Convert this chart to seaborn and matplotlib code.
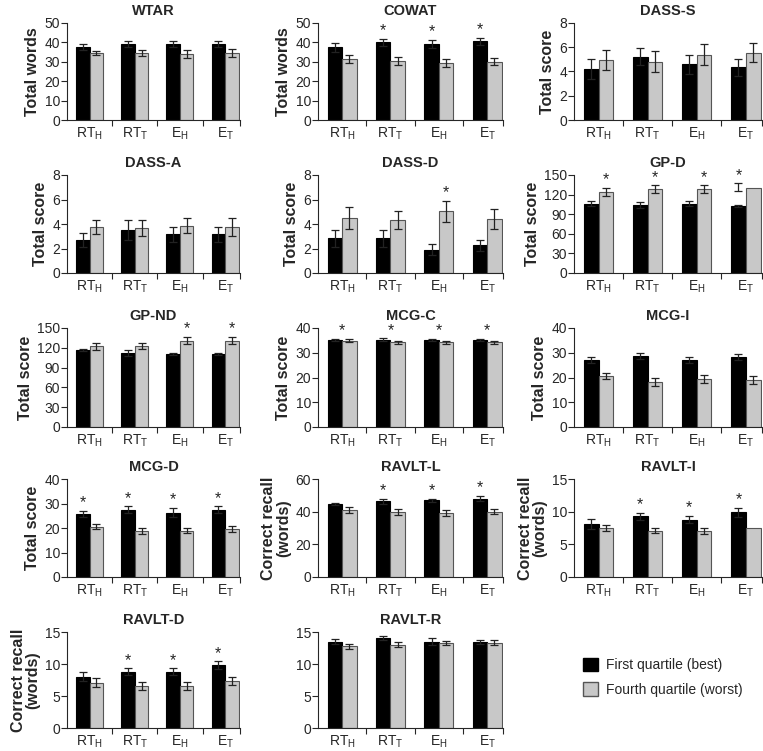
import matplotlib
matplotlib.use("Agg")
import matplotlib.pyplot as plt
from matplotlib.patches import Patch
import seaborn as sns
import pandas as pd

sns.set_style("ticks")
plt.rcParams["font.family"] = ["Liberation Sans", "DejaVu Sans"]
plt.rcParams["mathtext.fontset"] = "custom"
plt.rcParams["mathtext.rm"] = "Liberation Sans"

categories = ["RT_H", "RT_T", "E_H", "E_T"]
tick_labels = [r"RT$_\mathregular{H}$", r"RT$_\mathregular{T}$",
               r"E$_\mathregular{H}$", r"E$_\mathregular{T}$"]
groups = ["First quartile (best)", "Fourth quartile (worst)"]

titles = ["WTAR", "COWAT", "DASS-S", "DASS-A", "DASS-D", "GP-D", "GP-ND",
          "MCG-C", "MCG-I", "MCG-D", "RAVLT-L", "RAVLT-I", "RAVLT-D", "RAVLT-R"]
ylabels = ["Total words", "Total words", "Total score", "Total score", "Total score",
           "Total score", "Total score", "Total score", "Total score", "Total score",
           "Correct recall\n(words)", "Correct recall\n(words)", "Correct recall\n(words)", ""]
ymax = [50, 50, 8, 8, 8, 150, 150, 40, 40, 40, 60, 15, 15, 15]
ystep = [10, 10, 2, 2, 2, 30, 30, 10, 10, 10, 20, 5, 5, 5]

best_mean = [
    [37.5, 39.0, 39.0, 39.0],
    [37.5, 40.0, 39.2, 40.5],
    [4.2, 5.2, 4.6, 4.35],
    [2.7, 3.5, 3.15, 3.15],
    [2.85, 2.85, 1.9, 2.25],
    [106, 104, 106, 102],
    [116, 112, 110, 110],
    [35.2, 35.3, 35.2, 35.2],
    [27.0, 28.8, 27.0, 28.2],
    [25.8, 27.5, 26.3, 27.5],
    [44.5, 46.3, 47.0, 48.0],
    [8.1, 9.3, 8.8, 9.9],
    [8.0, 8.8, 8.8, 9.8],
    [13.5, 14.0, 13.5, 13.5],
]
best_err = [
    [1.5, 1.5, 1.5, 1.5],
    [2.2, 2.0, 2.0, 2.0],
    [0.8, 0.7, 0.8, 0.7],
    [0.6, 0.8, 0.6, 0.6],
    [0.7, 0.7, 0.45, 0.45],
    [4, 4, 4, 1.5],
    [1.5, 4, 1.5, 1.5],
    [0.3, 0.5, 0.3, 0.3],
    [1.2, 1.2, 1.2, 1.2],
    [1.3, 1.3, 2.0, 1.3],
    [0.7, 1.5, 0.8, 1.5],
    [0.8, 0.5, 0.5, 0.7],
    [0.7, 0.5, 0.5, 0.6],
    [0.4, 0.3, 0.5, 0.3],
]
worst_mean = [
    [34.5, 34.5, 34.0, 34.5],
    [31.5, 30.5, 29.5, 30.0],
    [4.95, 4.8, 5.4, 5.55],
    [3.75, 3.65, 3.85, 3.75],
    [4.5, 4.35, 5.05, 4.4],
    [124, 128, 128, 130],
    [122, 123, 131, 131],
    [34.8, 34.3, 34.3, 34.3],
    [20.6, 18.3, 19.5, 19.0],
    [20.6, 18.8, 18.9, 19.5],
    [41.0, 40.0, 39.0, 40.0],
    [7.5, 7.1, 7.1, 7.5],
    [7.1, 6.6, 6.6, 7.3],
    [12.8, 13.0, 13.3, 13.3],
]
worst_err = [
    [1.2, 1.5, 2.0, 2.0],
    [2.0, 2.2, 2.2, 1.8],
    [0.8, 0.85, 0.85, 0.8],
    [0.6, 0.65, 0.6, 0.7],
    [0.9, 0.75, 0.85, 0.8],
    [6, 6, 6, 0],
    [5, 5, 6, 6],
    [0.6, 0.6, 0.6, 0.6],
    [1.2, 1.7, 1.7, 1.7],
    [1.2, 1.2, 1.1, 1.2],
    [1.8, 1.8, 1.8, 1.5],
    [0.45, 0.4, 0.45, 0.0],
    [0.7, 0.6, 0.6, 0.6],
    [0.4, 0.4, 0.3, 0.4],
]
# which bar carries the significance star: "b" best, "w" worst, "c" centre, "" none
stars = [
    ["", "", "", ""],
    ["", "b", "b", "b"],
    ["", "", "", ""],
    ["", "", "", ""],
    ["", "", "w", ""],
    ["w", "w", "w", "b"],
    ["", "", "w", "w"],
    ["c", "c", "c", "c"],
    ["", "", "", ""],
    ["b", "b", "b", "b"],
    ["", "b", "b", "b"],
    ["", "b", "b", "b"],
    ["", "b", "b", "b"],
    ["", "", "", ""],
]
# error bar of the worst group in GP-D / E_T is printed over the best bar
stray_panel = "GP-D"
stray_cat = 3
stray_mean = 131
stray_err = 6

colors = ["#000000", "#c8c8c8"]
edges = ["#000000", "#555555"]

W, H = 763, 751
cols_px = [(67, 173), (318, 185), (574, 188)]
rows_px = [(23, 120), (175, 273), (328, 427), (479, 577), (632, 728)]

fig = plt.figure(figsize=(W / 100, H / 100), dpi=100)

for k, title in enumerate(titles):
    r, c = divmod(k, 3)
    x0, w = cols_px[c]
    t, b = rows_px[r]
    ax = fig.add_axes([x0 / W, 1 - b / H, w / W, (b - t) / H])

    df = pd.DataFrame({
        "cat": categories * 2,
        "grp": [groups[0]] * 4 + [groups[1]] * 4,
        "val": best_mean[k] + worst_mean[k],
    })
    sns.barplot(data=df, x="cat", y="val", hue="grp", order=categories,
                hue_order=groups, palette=colors, width=0.6, errorbar=None,
                legend=False, ax=ax, saturation=1)

    bars = sorted(ax.patches, key=lambda p: p.get_x())
    means = [best_mean[k], worst_mean[k]]
    errs = [best_err[k], worst_err[k]]
    for i in range(4):
        for h in range(2):
            p = bars[2 * i + h]
            p.set_edgecolor(edges[h])
            p.set_linewidth(0.8)
            xc = p.get_x() + p.get_width() / 2
            if errs[h][i] > 0:
                ax.errorbar(xc, means[h][i], yerr=errs[h][i], fmt="none",
                            ecolor="#222222", elinewidth=0.9, capsize=3, capthick=0.9)
        top = max(means[0][i] + errs[0][i], means[1][i] + errs[1][i])
        if title == stray_panel and i == stray_cat:
            p = bars[2 * i]
            xc = p.get_x() + p.get_width() / 2
            ax.errorbar(xc, stray_mean, yerr=stray_err, fmt="none",
                        ecolor="#222222", elinewidth=0.9, capsize=3, capthick=0.9)
        s = stars[k][i]
        if s:
            if s == "c":
                xs = bars[2 * i].get_x() + bars[2 * i].get_width()
                ys = top
            else:
                h = 0 if s == "b" else 1
                p = bars[2 * i + h]
                xs = p.get_x() + p.get_width() / 2
                ys = means[h][i] + errs[h][i]
                if title == stray_panel and i == stray_cat:
                    ys = stray_mean + stray_err
            ax.annotate("*", (xs, ys), xytext=(0, 0.5), textcoords="offset points",
                        ha="center", va="bottom", fontsize=11.5)

    ax.set_xlim(-0.5, 3.33)
    ax.set_ylim(0, ymax[k])
    ax.set_yticks(range(0, ymax[k] + 1, ystep[k]))
    ax.set_xticks(range(4))
    ax.set_xticklabels(tick_labels, fontsize=10)
    ax.set_xticks([0.5, 1.5, 2.5, 3.33], minor=True)
    ax.tick_params(axis="x", which="major", length=0, pad=4)
    ax.tick_params(axis="x", which="minor", length=4, width=0.8, direction="out")
    ax.tick_params(axis="y", labelsize=10, length=4, width=0.8, pad=1)
    ax.set_xlabel("")
    ax.set_ylabel(ylabels[k], fontsize=11.5, fontweight="bold", labelpad=3,
                  linespacing=1.0)
    ax.set_title(title, fontsize=10.5, fontweight="bold", pad=6)
    sns.despine(ax=ax)
    for sp in ["left", "bottom"]:
        ax.spines[sp].set_linewidth(0.8)

handles = [Patch(facecolor=colors[0], edgecolor=edges[0]),
           Patch(facecolor=colors[1], edgecolor=edges[1])]
fig.legend(handles, groups, loc="upper left", bbox_to_anchor=(570 / W, 1 - 645 / H),
           frameon=False, fontsize=10, handlelength=1.1, handleheight=1.1,
           labelspacing=0.75, handletextpad=0.6)

fig.savefig("out.png", dpi=100)
